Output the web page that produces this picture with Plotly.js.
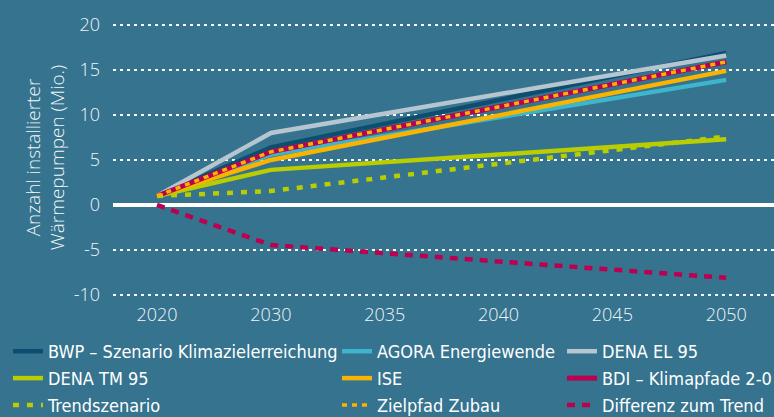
<!DOCTYPE html>
<html>
<head>
<meta charset="utf-8">
<script src="https://cdn.plot.ly/plotly-3.0.1.min.js"></script>
<style>
  html, body { margin: 0; padding: 0; background: #35738f; }
  #chart { width: 774px; height: 417px; }
</style>
</head>
<body>
<div id="chart"></div>
<script>
// Axis categories
const categories = ['2020', '2030', '2035', '2040', '2045', '2050'];
// Years where the series have values
const years = ['2020', '2030', '2050'];

// Series values (Mio.)
const bwp       = [1.0, 6.4, 16.9];
const agora     = [1.0, 5.6, 13.9];
const denaEL95  = [1.0, 8.0, 16.6];
const denaTM95  = [1.0, 3.9, 7.3];
const ise       = [1.0, 5.0, 14.9];
const bdi       = [1.0, 5.9, 15.9];
const trend     = [1.0, 1.55, 7.6];
const zielpfad  = [1.0, 5.9, 15.9];
const differenz = [0.0, -4.45, -8.1];

const yTicks = [-10, -5, 0, 5, 10, 15, 20];

const NAVY = '#0d4e70', CYAN = '#3fb5cc', GREY = '#b5c6d1',
      LIME = '#b9cd00', AMBER = '#f8b400', CRIMSON = '#bb0050';

function tr(name, y, color, width, dash, legend, group) {
  return {
    type: 'scatter', mode: 'lines', name: name, x: years, y: y,
    line: { color: color, width: width, dash: dash || 'solid' },
    legend: legend, legendgroup: group, hoverinfo: 'skip'
  };
}

const data = [
  tr('BWP – Szenario Klimazielerreichung', bwp, NAVY, 4.5, null, 'legend', 'a'),
  tr('DENA EL 95', denaEL95, GREY, 4.5, null, 'legend3', 'c'),
  tr('AGORA Energiewende', agora, CYAN, 4.5, null, 'legend2', 'b'),
  tr('DENA TM 95', denaTM95, LIME, 4.5, null, 'legend', 'd'),
  tr('ISE', ise, AMBER, 4.5, null, 'legend2', 'e'),
  tr('BDI – Klimapfade 2-0', bdi, CRIMSON, 5, null, 'legend3', 'f'),
  tr('Trendszenario', trend, LIME, 4.5, '6px,8px', 'legend', 'g'),
  tr('Zielpfad Zubau', zielpfad, AMBER, 3.5, '5px,5px', 'legend2', 'h'),
  tr('Differenz zum Trend', differenz, CRIMSON, 4.5, '8px,7px', 'legend3', 'i')
];

const legFont = { family: 'Liberation Sans Narrow, DejaVu Sans Condensed, sans-serif', size: 18, color: '#ffffff' };
function leg(x) {
  return {
    x: x, y: 0.2014, xanchor: 'left', yanchor: 'top', xref: 'paper', yref: 'paper',
    orientation: 'v', bgcolor: 'rgba(0,0,0,0)', borderwidth: 0,
    font: legFont, traceorder: 'grouped', tracegroupgap: 0.5, itemwidth: 30
  };
}

const tickFont = { family: 'Open Sans, sans-serif', size: 18, color: '#f2f6f8', weight: 300 };

const layout = {
  width: 774, height: 417,
  margin: { l: 0, r: 0, t: 0, b: 0, pad: 0, autoexpand: false },
  paper_bgcolor: '#35738f', plot_bgcolor: '#35738f',
  showlegend: true,
  legend: leg(0.0103),
  legend2: leg(0.4354),
  legend3: leg(0.7261),
  xaxis: {
    domain: [113 / 774, 1],
    type: 'category', categoryorder: 'array', categoryarray: categories,
    tickvals: categories, ticktext: categories,
    range: [-0.387, 5.42], showgrid: false, zeroline: false, showline: false,
    ticks: '', tickfont: tickFont, ticklabelstandoff: 2, fixedrange: true
  },
  yaxis: {
    domain: [117 / 417, 402 / 417],
    range: [-10.56, 21.11], tickvals: yTicks, ticktext: yTicks.map(String),
    showgrid: true, gridcolor: '#ffffff', gridwidth: 2.5, griddash: '3px,4px',
    zeroline: true, zerolinecolor: '#ffffff', zerolinewidth: 3.5,
    showline: false, ticks: '', tickfont: tickFont, ticklabelstandoff: 12,
    title: { text: 'Anzahl installierter<br>Wärmepumpen (Mio.)', font: { family: 'Open Sans, sans-serif', size: 19, color: '#f2f6f8', weight: 300 }, standoff: 3 },
    fixedrange: true
  }
};

Plotly.newPlot('chart', data, layout, { displayModeBar: false, staticPlot: true });
</script>
</body>
</html>
